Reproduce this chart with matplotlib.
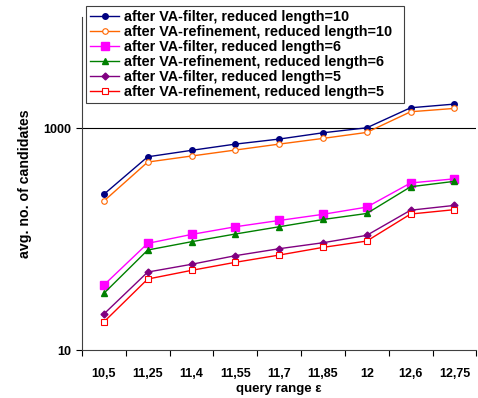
import matplotlib
matplotlib.use("Agg")
import matplotlib.pyplot as plt

plt.rcParams['font.family'] = ['Liberation Sans', 'DejaVu Sans']
plt.rcParams['font.weight'] = 'bold'

# data
eps_labels = ['10,5', '11,25', '11,4', '11,55', '11,7', '11,85', '12', '12,6', '12,75']
filter_10 = [253, 551, 630, 717, 796, 907, 1006, 1524, 1645]
refine_10 = [220, 494, 560, 634, 717, 807, 914, 1403, 1504]
filter_6 = [38.5, 91.4, 110, 129, 147, 167, 194, 320, 349]
refine_6 = [32.4, 79.6, 94.6, 111, 129, 150, 170, 296, 331]
filter_5 = [21.1, 50.4, 59.2, 70.8, 81.8, 92.6, 108, 182, 201]
refine_5 = [17.9, 43.6, 52.2, 61.7, 71.7, 84.1, 95.9, 168, 184]

x = list(range(len(eps_labels)))

fig = plt.figure(figsize=(4.78, 3.98), dpi=100)
ax = fig.add_axes([0.1715, 0.1206, 0.825, 0.8364])

ax.axhline(1000, color='black', lw=0.8, zorder=0)

lw = 1.0
ax.plot(x, filter_10, color='#000080', marker='o', ms=4, lw=lw,
        label='after VA-filter, reduced length=10')
ax.plot(x, refine_10, color='#FF6600', marker='o', ms=4, lw=lw, mfc='white', mew=0.8,
        label='after VA-refinement, reduced length=10')
ax.plot(x, filter_6, color='#FF00FF', marker='s', ms=6, lw=lw,
        label='after VA-filter, reduced length=6')
ax.plot(x, refine_6, color='#008000', marker='^', ms=5, lw=lw,
        label='after VA-refinement, reduced length=6')
ax.plot(x, filter_5, color='#800080', marker='D', ms=3.5, lw=lw,
        label='after VA-filter, reduced length=5')
ax.plot(x, refine_5, color='#FF0000', marker='s', ms=5, lw=lw, mfc='white', mew=0.8,
        label='after VA-refinement, reduced length=5')

ax.set_yscale('log')
ax.set_ylim(10, 10000)
ax.set_yticks([10, 1000])
ax.set_yticklabels(['10', '1000'])
ax.yaxis.set_minor_locator(matplotlib.ticker.NullLocator())

ax.set_xlim(-0.5, len(x) - 0.5)
ax.set_xticks([i - 0.5 for i in range(len(x) + 1)])
ax.set_xticklabels([])
ax.set_xticks(x, minor=True)
ax.set_xticklabels(eps_labels, minor=True)
ax.tick_params(axis='x', which='minor', length=0, pad=13, labelsize=9)
ax.tick_params(axis='x', which='major', length=4, direction='out')
ax.tick_params(axis='y', labelsize=9, length=4)

for s in ['top', 'right']:
    ax.spines[s].set_visible(False)
for s in ['left', 'bottom']:
    ax.spines[s].set_color('#404040')

ax.set_xlabel('query range ε', fontsize=9.5, fontweight='bold', labelpad=2)
ax.set_ylabel('avg. no. of candidates', fontsize=10.2, fontweight='bold', labelpad=8)

top = 1 - 6 / 398
leg = ax.legend(loc='upper left', bbox_to_anchor=(86 / 478, 0.5, 318 / 478, top - 0.5),
                bbox_transform=fig.transFigure, mode='expand',
                frameon=True, fancybox=False, edgecolor='#404040', framealpha=1,
                handlelength=2.0, handletextpad=0.3, borderpad=0.3,
                labelspacing=0.06, borderaxespad=0,
                prop={'weight': 'bold', 'size': 10.4})
leg.get_frame().set_linewidth(0.8)

fig.savefig('out.png', dpi=100)
